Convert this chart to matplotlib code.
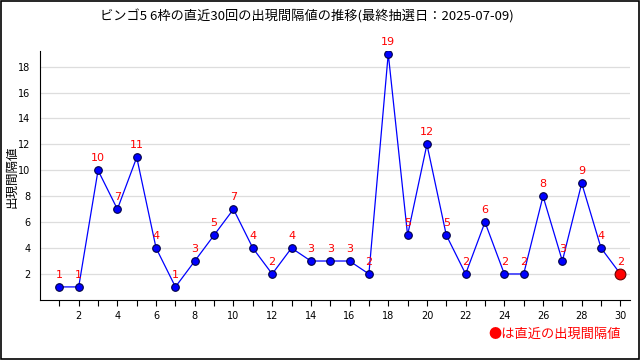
import matplotlib
matplotlib.use("Agg")
import matplotlib.pyplot as plt
from matplotlib.patches import Rectangle

plt.rcParams['font.family'] = ['Noto Sans CJK JP', 'DejaVu Sans']

# データ
draws = list(range(1, 31))
intervals = [1, 1, 10, 7, 11, 4, 1, 3, 5, 7, 4, 2, 4, 3, 3, 3, 2, 19, 5, 12,
             5, 2, 6, 2, 2, 8, 3, 9, 4, 2]
title = "ビンゴ5 6枠の直近30回の出現間隔値の推移(最終抽選日：2025-07-09)"
ylabel = "出現間隔値"
legend_text = "●は直近の出現間隔値"
xticks = list(range(2, 31, 2))
yticks = list(range(2, 19, 2))

fig = plt.figure(figsize=(6.4, 3.6), dpi=100)
fig.patch.set_facecolor('white')
fig.patches.append(Rectangle((0.001, 0.002), 0.997, 0.996, transform=fig.transFigure,
                             fill=False, edgecolor='black', lw=1.2))
ax = fig.add_axes([0.0625, 0.167, 0.922, 0.691])

ax.plot(draws, intervals, color='#0000ff', lw=0.9, zorder=2)
ax.scatter(draws[:-1], intervals[:-1], s=30, color='#0000ff', edgecolor='#000044',
           linewidth=0.8, zorder=3)
ax.scatter(draws[-1:], intervals[-1:], s=60, color='#ff0000', edgecolor='#660000',
           linewidth=0.8, zorder=4)
for x, y in zip(draws, intervals):
    ax.annotate(str(y), (x, y), xytext=(0, 5), textcoords='offset points',
                ha='center', va='bottom', color='#ff0000', fontsize=8,
                family='DejaVu Sans')

ax.set_xlim(0, 30.5)
ax.set_ylim(0, 19.2)
ax.set_xticks(draws, minor=True)
ax.set_xticks(xticks)
ax.set_xticklabels([str(t) for t in xticks], family='DejaVu Sans')
ax.set_yticks(yticks)
ax.set_yticklabels([str(t) for t in yticks], family='DejaVu Sans')
ax.tick_params(axis='x', which='both', length=4, width=0.8, labelsize=7, pad=4)
ax.tick_params(axis='y', length=0, labelsize=7, pad=7)
ax.grid(axis='y', color='#dddddd', lw=0.9, zorder=0)
ax.spines['top'].set_visible(False)
ax.spines['right'].set_visible(False)

fig.text(0.48, 0.975, title, ha='center', va='top', fontsize=9.5)
fig.text(0.018, 0.51, ylabel, rotation=90, ha='center', va='center', fontsize=9)
fig.text(0.97, 0.07, legend_text, ha='right', va='center', color='#ff0000', fontsize=9.5)

fig.savefig('out.png', dpi=100)
